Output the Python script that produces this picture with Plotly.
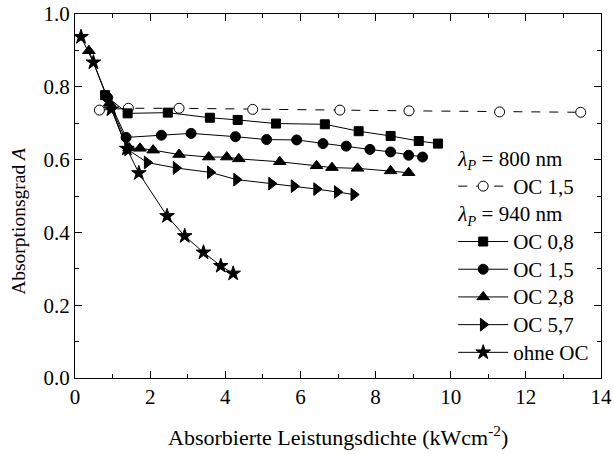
import plotly.graph_objects as go

# 800 nm, OC 1,5 (open circles, dashed)
x_800_oc15 = [0.65, 1.42, 2.77, 4.73, 7.05, 8.89, 11.30, 13.46]
y_800_oc15 = [0.736, 0.741, 0.741, 0.738, 0.736, 0.734, 0.731, 0.730]

# 940 nm series
x_oc08 = [0.80, 1.40, 2.47, 3.59, 4.33, 5.35, 6.65, 7.55, 8.40, 9.15, 9.66]
y_oc08 = [0.777, 0.727, 0.729, 0.715, 0.709, 0.699, 0.697, 0.678, 0.665, 0.651, 0.644]

x_oc15 = [0.87, 1.36, 2.30, 3.09, 4.27, 5.10, 5.90, 6.60, 7.22, 7.85, 8.40, 8.88, 9.25]
y_oc15 = [0.770, 0.661, 0.667, 0.672, 0.663, 0.655, 0.654, 0.644, 0.637, 0.628, 0.621, 0.612, 0.607]

x_oc28 = [0.37, 0.92, 1.44, 1.73, 2.08, 2.77, 3.56, 4.04, 4.36, 5.45, 6.43, 6.84, 7.52, 8.40, 8.88]
y_oc28 = [0.899, 0.755, 0.632, 0.631, 0.626, 0.614, 0.607, 0.607, 0.602, 0.594, 0.583, 0.578, 0.576, 0.569, 0.564]

x_oc57 = [0.95, 1.40, 1.92, 2.69, 3.60, 4.30, 5.23, 5.83, 6.43, 6.98, 7.42]
y_oc57 = [0.745, 0.628, 0.592, 0.577, 0.565, 0.545, 0.534, 0.527, 0.519, 0.511, 0.504]

x_ohne = [0.16, 0.49, 0.97, 1.38, 1.70, 2.45, 2.92, 3.42, 3.88, 4.21]
y_ohne = [0.937, 0.867, 0.738, 0.630, 0.563, 0.445, 0.390, 0.345, 0.308, 0.287]

FONT = "Liberation Serif"
LEG_SIZE = 19   # controls legend row spacing
TXT = "<span style='font-size:21px'>{}</span>"

fig = go.Figure()

def add(x, y, name, symbol, size, group, title, dash="solid", fill="black"):
    fig.add_trace(go.Scatter(
        x=x, y=y, name=TXT.format(name), mode="lines+markers",
        line=dict(color="black", width=1, dash=dash),
        marker=dict(symbol=symbol, size=size, color=fill,
                    line=dict(color="black", width=1)),
        legendgroup=group,
        legendgrouptitle=dict(text=TXT.format(title),
                              font=dict(family=FONT, size=LEG_SIZE, color="black")),
    ))

t800 = "<i>λ</i><sub><i>P</i></sub> = 800 nm"
t940 = "<i>λ</i><sub><i>P</i></sub> = 940 nm"
add(x_800_oc15, y_800_oc15, "OC 1,5", "circle", 10, "g800", t800, dash="dash", fill="white")
add(x_oc08, y_oc08, "OC 0,8", "square", 9, "g940", t940)
add(x_oc15, y_oc15, "OC 1,5", "circle", 10, "g940", t940)
add(x_oc28, y_oc28, "OC 2,8", "triangle-up", 11, "g940", t940)
add(x_oc57, y_oc57, "OC 5,7", "triangle-right", 11, "g940", t940)
add(x_ohne, y_ohne, "ohne OC", "star", 11, "g940", t940)

axis_common = dict(
    showgrid=False, zeroline=False, showline=True, linecolor="black", linewidth=1,
    mirror="ticks", ticks="inside", ticklen=7, tickcolor="black", tickwidth=1,
    tickfont=dict(family=FONT, size=21, color="black"), automargin=False,
)

fig.update_xaxes(**axis_common, range=[0, 14], dtick=2, tick0=0,
                 minor=dict(ticks="inside", ticklen=4, dtick=1, tickcolor="black"))
fig.update_yaxes(**axis_common, range=[0, 1], dtick=0.2, tick0=0, tickformat=".1f",
                 minor=dict(ticks="inside", ticklen=4, dtick=0.1, tickcolor="black"))

fig.add_annotation(text="Absorbierte Leistungsdichte (kWcm<sup>-2</sup>)",
                   xref="paper", yref="paper", x=0.5, y=0, yshift=-58,
                   xanchor="center", yanchor="middle", showarrow=False,
                   font=dict(family=FONT, size=22, color="black"))
fig.add_annotation(text="Absorptionsgrad <i>A</i>",
                   xref="paper", yref="paper", x=0, xshift=-56, y=0.429,
                   xanchor="center", yanchor="middle", showarrow=False, textangle=-90,
                   font=dict(family=FONT, size=19.5, color="black"))

fig.update_layout(
    width=614, height=454,
    margin=dict(l=75, r=13, t=14, b=76),
    paper_bgcolor="white", plot_bgcolor="white",
    font=dict(family=FONT, color="black"),
    legend=dict(x=0.719, y=0.655, xanchor="left", yanchor="top",
                bgcolor="rgba(0,0,0,0)", borderwidth=0,
                font=dict(family=FONT, size=LEG_SIZE, color="black"),
                tracegroupgap=0, traceorder="grouped", itemwidth=50),
    showlegend=True,
)

fig.write_html("out.html")
